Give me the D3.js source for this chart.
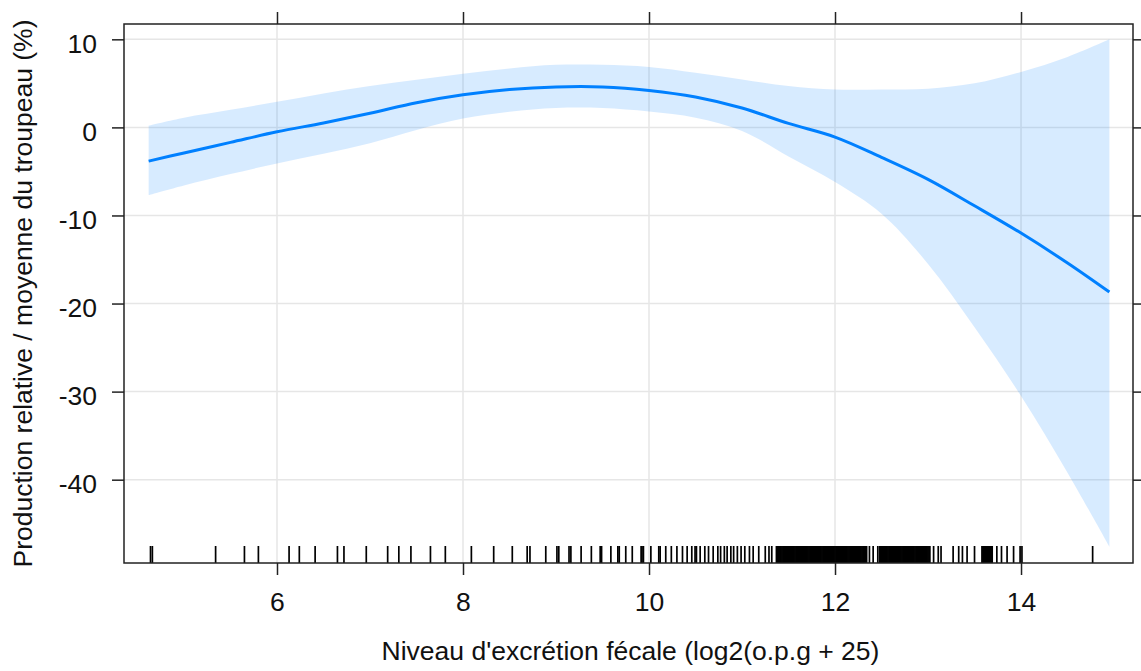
<!DOCTYPE html>
<html>
<head>
<meta charset="utf-8">
<script src="https://cdn.jsdelivr.net/npm/d3@7"></script>
<style>
  html, body { margin: 0; padding: 0; background: #fff; }
  svg { display: block; }
  text { font-family: "Liberation Sans", Arial, sans-serif; fill: #111; }
</style>
</head>
<body>
<script>
// ---- data ----
const xVals = [4.62, 5, 5.5, 6, 6.5, 7, 7.5, 8, 8.5, 9, 9.5, 10, 10.5, 11, 11.5, 12, 12.5, 13, 13.5, 14, 14.5, 14.95];
const fitVals = [-3.83, -2.9, -1.7, -0.5, 0.5, 1.6, 2.8, 3.7, 4.3, 4.6, 4.6, 4.2, 3.45, 2.2, 0.45, -1.1, -3.4, -5.9, -8.9, -12.0, -15.4, -18.7];
const upperVals = [0.2, 1.1, 2.0, 2.9, 3.85, 4.7, 5.4, 6.1, 6.7, 7.1, 7.1, 6.85, 6.2, 5.45, 4.7, 4.3, 4.3, 4.4, 5.0, 6.3, 8.0, 10.0];
const lowerVals = [-7.7, -6.6, -5.3, -4.1, -3.0, -1.8, -0.3, 1.0, 1.77, 2.2, 2.2, 1.8, 1.1, -0.4, -3.3, -6.2, -9.8, -15.5, -22.7, -30.5, -39.2, -47.6];

const rugX = [
  4.64, 4.66, 5.34, 5.65, 5.80, 6.13, 6.24, 6.41, 6.65, 6.72, 6.96, 7.19, 7.31, 7.44, 7.65, 7.81, 8.09, 8.33, 8.53, 8.69, 8.72, 8.89,
  9.01, 9.03, 9.14, 9.16, 9.27, 9.38, 9.475, 9.49, 9.59, 9.665, 9.68, 9.75, 9.82, 9.915, 9.925, 9.94, 10.02, 10.105, 10.12, 10.18,
  10.24, 10.30, 10.36, 10.41, 10.46, 10.495, 10.51, 10.55, 10.60, 10.64, 10.69, 10.74, 10.77, 10.81, 10.84, 10.88, 10.91, 10.95,
  10.99, 11.03, 11.08, 11.12, 11.18, 11.25, 11.29, 11.32,
  11.37, 11.38, 11.39, 11.40, 11.41, 11.42, 11.43, 11.44, 11.45, 11.46, 11.47, 11.48, 11.49, 11.50, 11.51, 11.52, 11.53, 11.54,
  11.55, 11.56, 11.57, 11.58, 11.59, 11.60, 11.61, 11.62, 11.63, 11.64, 11.65, 11.66, 11.67, 11.68, 11.69, 11.70, 11.71, 11.72,
  11.73, 11.74, 11.75, 11.76, 11.77, 11.78, 11.79, 11.80, 11.81, 11.82, 11.83, 11.84, 11.85, 11.86, 11.87, 11.88, 11.89, 11.90,
  11.91, 11.92, 11.93, 11.94, 11.95, 11.96, 11.97, 11.98, 11.99, 12.00, 12.01, 12.02, 12.03, 12.04, 12.05, 12.06, 12.07, 12.08,
  12.09, 12.10, 12.11, 12.12, 12.13, 12.14, 12.15, 12.16, 12.17, 12.18, 12.19, 12.20, 12.21, 12.22, 12.23, 12.24, 12.25, 12.26,
  12.27, 12.28, 12.29, 12.30, 12.31, 12.32, 12.33, 12.34,
  12.37, 12.41, 12.46,
  12.48, 12.49, 12.50, 12.51, 12.52, 12.53, 12.54, 12.55, 12.56, 12.57, 12.58, 12.59, 12.60, 12.61, 12.62, 12.63, 12.64, 12.65,
  12.66, 12.67, 12.68, 12.69, 12.70, 12.71, 12.72, 12.73, 12.74, 12.75, 12.76, 12.77, 12.78, 12.79, 12.80, 12.81, 12.82, 12.83,
  12.84, 12.85, 12.86, 12.87, 12.88, 12.89, 12.90, 12.91, 12.92, 12.93, 12.94, 12.95, 12.96, 12.97, 12.98, 12.99, 13.00, 13.01, 13.02,
  13.06, 13.11, 13.14, 13.27, 13.33, 13.37, 13.42, 13.50,
  13.58, 13.59, 13.60, 13.61, 13.62, 13.63, 13.64, 13.65, 13.66, 13.67, 13.68, 13.69,
  13.74, 13.79, 13.85, 13.92, 13.99, 14.01, 14.77
];

const xTicks = [6, 8, 10, 12, 14];
const yTicks = [10, 0, -10, -20, -30, -40];
const xLabel = "Niveau d'excrétion fécale (log2(o.p.g + 25)";
const yLabel = "Production relative / moyenne du troupeau (%)";

// ---- layout ----
const W = 1141, H = 671;
const L = 124, R = 1133, T = 24, B = 563;
const FS = 26.5;

const svg = d3.select("body").append("svg").attr("width", W).attr("height", H);

const x = d3.scaleLinear().domain([4.355, 15.204]).range([L, R]);
const y = d3.scaleLinear().domain([-49.46, 11.74]).range([B, T]);

// grid
const grid = svg.append("g").attr("stroke", "#e6e6e6").attr("stroke-width", 1.5);
grid.selectAll("line.v").data(xTicks).join("line")
  .attr("x1", d => x(d)).attr("x2", d => x(d)).attr("y1", T).attr("y2", B);
grid.selectAll("line.h").data(yTicks).join("line")
  .attr("x1", L).attr("x2", R).attr("y1", d => y(d)).attr("y2", d => y(d));

const pts = xVals.map((v, i) => ({ x: v, f: fitVals[i], lo: lowerVals[i], hi: upperVals[i] }));

// confidence band
svg.append("path").datum(pts)
  .attr("fill", "#0080ff").attr("fill-opacity", 0.155)
  .attr("d", d3.area().x(d => x(d.x)).y0(d => y(d.lo)).y1(d => y(d.hi)).curve(d3.curveCatmullRom.alpha(0.5)));

// fit line
svg.append("path").datum(pts)
  .attr("fill", "none").attr("stroke", "#0080ff").attr("stroke-width", 3)
  .attr("d", d3.line().x(d => x(d.x)).y(d => y(d.f)).curve(d3.curveCatmullRom.alpha(0.5)));

// rug
svg.append("g").attr("stroke", "#000").attr("stroke-width", 1.7)
  .selectAll("line").data(rugX).join("line")
  .attr("x1", d => x(d)).attr("x2", d => x(d))
  .attr("y1", B - 17).attr("y2", B);

// axes
const plainFmt = d => String(d);
function styleAxis(g) {
  g.select(".domain").remove();
  g.selectAll(".tick line").attr("stroke", "#222").attr("stroke-width", 1.5);
  g.selectAll(".tick text").attr("font-size", FS).attr("font-family", "Liberation Sans, Arial, sans-serif").attr("fill", "#111");
}

svg.append("g").attr("transform", `translate(0,${B})`)
  .call(d3.axisBottom(x).tickValues(xTicks).tickSize(12).tickPadding(17).tickFormat(plainFmt))
  .call(styleAxis);

svg.append("g").attr("transform", `translate(0,${T})`)
  .call(d3.axisTop(x).tickValues(xTicks).tickSize(12).tickFormat(""))
  .call(styleAxis);

const yl = svg.append("g").attr("transform", `translate(${L},0)`)
  .call(d3.axisLeft(y).tickValues(yTicks).tickSize(12).tickPadding(15).tickFormat(plainFmt))
  .call(styleAxis);
yl.selectAll(".tick text").attr("dy", "0.5em");

svg.append("g").attr("transform", `translate(${R},0)`)
  .call(d3.axisRight(y).tickValues(yTicks).tickSize(12).tickFormat(""))
  .call(styleAxis);

// frame
svg.append("rect").attr("x", L).attr("y", T).attr("width", R - L).attr("height", B - T)
  .attr("fill", "none").attr("stroke", "#222").attr("stroke-width", 1.5);

// axis titles
svg.append("text").attr("x", (L + R) / 2 + 2).attr("y", 660)
  .attr("text-anchor", "middle").attr("font-size", FS).text(xLabel);

svg.append("text").attr("transform", `translate(32,${(T + B) / 2 + 0}) rotate(-90)`)
  .attr("text-anchor", "middle").attr("font-size", FS).text(yLabel);
</script>
</body>
</html>
